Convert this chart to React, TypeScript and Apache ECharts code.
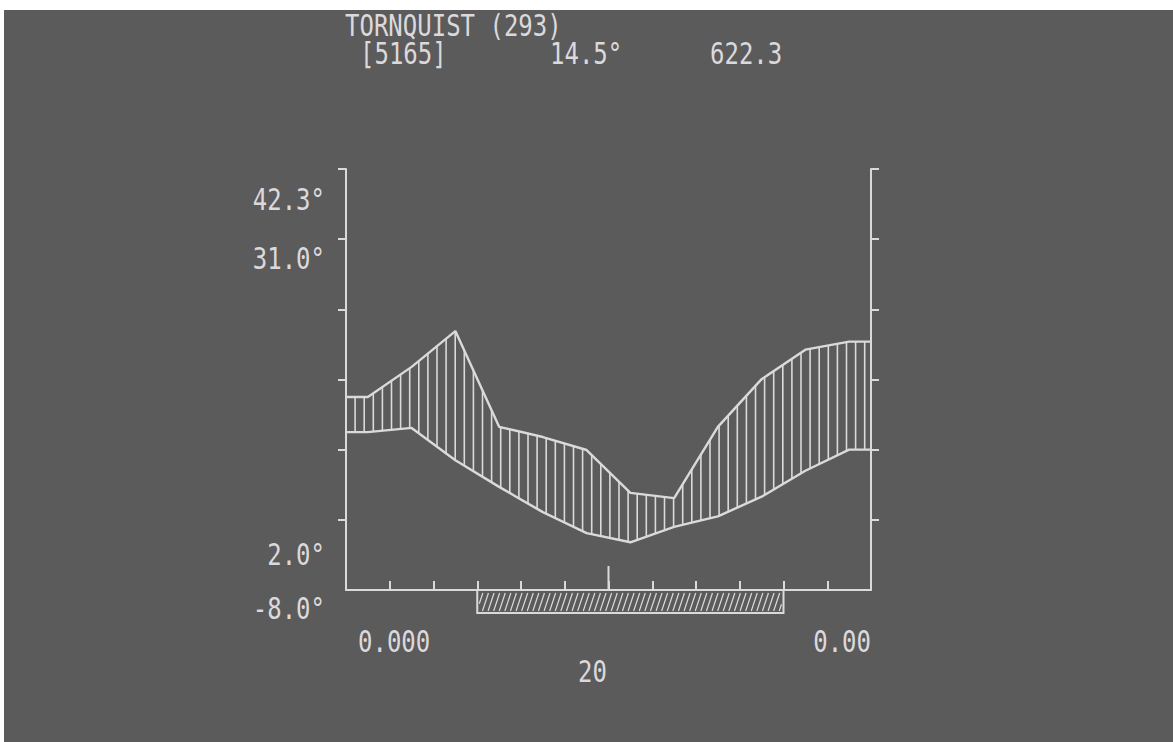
import React, { useEffect, useRef } from "react";
import * as echarts from "echarts";

// Walter–Lieth climate diagram, station header and annual figures
const STATION = "TORNQUIST (293)";
const HEADER_VALUES = ["[5165]", "14.5°", "622.3"];
// Extreme / mean-extreme temperature annotations on the left side
const TEMP_NOTES = ["42.3°", "31.0°", "2.0°", "-8.0°"];
// Footer figures under the month axis
const FOOT_NOTES = ["0.000", "0.00", "20"];

// Monthly mean temperature (°C), January to December
const TEMPERATURE = [22.5, 23.1, 18.5, 14.7, 11.1, 8.1, 6.8, 9.0, 10.5, 13.3, 17.0, 20.0];
// Monthly precipitation (mm), January to December
const PRECIPITATION = [55.0, 63.6, 73.8, 46.5, 43.6, 39.9, 27.7, 26.2, 46.5, 60.1, 68.5, 70.8];
// Months with possible frost: [start month boundary, end month boundary]
const FROST_PERIOD = [3, 10];
// Mid-year marker on the month axis
const MID_YEAR = 6;
// Tick values on the temperature (°C) and precipitation (mm) axes
const TEMP_TICKS = [10, 20, 30, 40, 50, 60];
const PREC_TICKS = [20, 40, 60, 80, 100, 120];

const INK = "#dcd9dc";
const PAPER = "#5b5b5b";
const FONT = '24px "DejaVu Sans Mono", "Liberation Mono", monospace';

// Monthly points sit at mid-month, held flat out to both year ends
const toLine = (vals: number[]) => [
  [0, vals[0]],
  ...vals.map((v, i) => [i + 0.5, v]),
  [12, vals[vals.length - 1]],
];

const tempLine = toLine(TEMPERATURE);
const precLine = toLine(PRECIPITATION);

function interpAt(pts: number[][], x: number) {
  for (let i = 1; i < pts.length; i++) {
    if (x <= pts[i][0]) {
      const [ax, ay] = pts[i - 1];
      const [bx, by] = pts[i];
      const t = bx === ax ? 0 : (x - ax) / (bx - ax);
      return ay + t * (by - ay);
    }
  }
  return pts[pts.length - 1][1];
}

function label(text: string, x: number, y: number, align: string) {
  return {
    type: "text",
    x,
    y,
    scaleY: 1.22,
    silent: true,
    style: {
      text,
      fill: INK,
      font: FONT,
      align,
      textAlign: align,
      verticalAlign: "middle",
      textVerticalAlign: "middle",
    },
  };
}

export default function App() {
  const ref = useRef<HTMLDivElement>(null);

  useEffect(() => {
    if (!ref.current) return;
    const chart = echarts.init(ref.current, undefined, { renderer: "svg" });

    const axisStyle = { lineStyle: { color: INK, width: 2 } };

    chart.setOption({
      animation: false,
      backgroundColor: PAPER,
      grid: { left: 342, top: 159, width: 525, height: 421, containLabel: false },
      xAxis: {
        type: "value",
        min: 0,
        max: 12,
        interval: 1,
        axisLine: { show: true, onZero: false, ...axisStyle },
        axisTick: { show: true, inside: true, length: 9, ...axisStyle },
        axisLabel: { show: false },
        splitLine: { show: false },
      },
      yAxis: [
        {
          type: "value",
          min: 0,
          max: 60,
          interval: 10,
          position: "left",
          axisLine: { show: true, onZero: false, ...axisStyle },
          axisTick: { show: true, inside: false, length: 8, customValues: TEMP_TICKS, ...axisStyle },
          axisLabel: { show: false },
          splitLine: { show: false },
        },
        {
          type: "value",
          min: 0,
          max: 120,
          interval: 20,
          position: "right",
          axisLine: { show: true, onZero: false, ...axisStyle },
          axisTick: { show: true, inside: false, length: 8, customValues: PREC_TICKS, ...axisStyle },
          axisLabel: { show: false },
          splitLine: { show: false },
        },
      ],
      series: [
        {
          // vertical hatching of the humid period (precipitation above temperature)
          type: "custom",
          name: "humid",
          xAxisIndex: 0,
          yAxisIndex: 0,
          clip: false,
          silent: true,
          z: 1,
          data: [[0, 0]],
          renderItem: (_params: any, api: any) => {
            const lo = tempLine.map(([x, v]) => api.coord([x, v]));
            // 10 °C corresponds to 20 mm
            const hi = precLine.map(([x, v]) => api.coord([x, v / 2]));
            const x0 = lo[0][0];
            const x1 = lo[lo.length - 1][0];
            const children: any[] = [];
            for (let x = x0; x < x1 - 2; x += 9.1) {
              const yl = interpAt(lo, x);
              const yh = interpAt(hi, x);
              if (yh < yl) {
                children.push({
                  type: "line",
                  shape: { x1: x, y1: yl, x2: x, y2: yh },
                  style: { stroke: INK, lineWidth: 1.6 },
                });
              }
            }
            return { type: "group", children };
          },
        },
        {
          type: "line",
          name: "temperature",
          yAxisIndex: 0,
          data: tempLine,
          showSymbol: false,
          symbol: "none",
          silent: true,
          z: 3,
          lineStyle: { color: INK, width: 2.4 },
        },
        {
          type: "line",
          name: "precipitation",
          yAxisIndex: 1,
          data: precLine,
          showSymbol: false,
          symbol: "none",
          silent: true,
          z: 3,
          lineStyle: { color: INK, width: 2.4 },
        },
        {
          // frost period bar below the month axis
          type: "custom",
          name: "frost",
          xAxisIndex: 0,
          yAxisIndex: 0,
          clip: false,
          silent: true,
          z: 2,
          data: [FROST_PERIOD],
          renderItem: (_params: any, api: any) => {
            const [xs, y0] = api.coord([api.value(0), 0]);
            const [xe] = api.coord([api.value(1), 0]);
            const h = 23;
            const top = y0 + 2;
            const bottom = y0 + h;
            const children: any[] = [
              {
                type: "polyline",
                shape: { points: [[xs, y0], [xs, bottom], [xe, bottom], [xe, y0]] },
                style: { stroke: INK, lineWidth: 2, fill: null },
              },
            ];
            const dx = 6;
            const hh = bottom - top;
            for (let b = xs - dx; b < xe; b += 5.6) {
              let ax = b;
              let ay = bottom - 2;
              let bx = b + dx;
              let by = top + 1;
              const span = hh - 3;
              if (ax < xs + 2) {
                const t = (xs + 2 - ax) / dx;
                ax = xs + 2;
                ay = bottom - 2 - t * span;
              }
              if (bx > xe - 2) {
                const t = (xe - 2 - b) / dx;
                bx = xe - 2;
                by = bottom - 2 - t * span;
              }
              if (bx > ax) {
                children.push({
                  type: "line",
                  shape: { x1: ax, y1: ay, x2: bx, y2: by },
                  style: { stroke: INK, lineWidth: 1.2 },
                });
              }
            }
            return { type: "group", children };
          },
        },
        {
          // taller tick marking mid-year
          type: "custom",
          name: "midYear",
          xAxisIndex: 0,
          yAxisIndex: 0,
          clip: false,
          silent: true,
          z: 4,
          data: [[MID_YEAR, 0]],
          renderItem: (_params: any, api: any) => {
            const [x, y] = api.coord([api.value(0), api.value(1)]);
            return {
              type: "line",
              shape: { x1: x, y1: y, x2: x, y2: y - 24 },
              style: { stroke: INK, lineWidth: 2 },
            };
          },
        },
      ],
      graphic: [
        label(STATION, 341, 16, "left"),
        label(HEADER_VALUES[0], 356, 44, "left"),
        label(HEADER_VALUES[1], 546, 44, "left"),
        label(HEADER_VALUES[2], 706, 44, "left"),
        label(TEMP_NOTES[0], 321, 190, "right"),
        label(TEMP_NOTES[1], 321, 249, "right"),
        label(TEMP_NOTES[2], 321, 545, "right"),
        label(TEMP_NOTES[3], 321, 599, "right"),
        label(FOOT_NOTES[0], 354, 632, "left"),
        label(FOOT_NOTES[1], 867, 632, "right"),
        label(FOOT_NOTES[2], 574, 662, "left"),
      ],
    });

    return () => chart.dispose();
  }, []);

  return (
    <div
      style={{
        position: "fixed",
        left: 4,
        top: 10,
        width: 1169,
        height: 732,
        background: PAPER,
      }}
    >
      <div ref={ref} style={{ width: 1169, height: 732 }} />
    </div>
  );
}
